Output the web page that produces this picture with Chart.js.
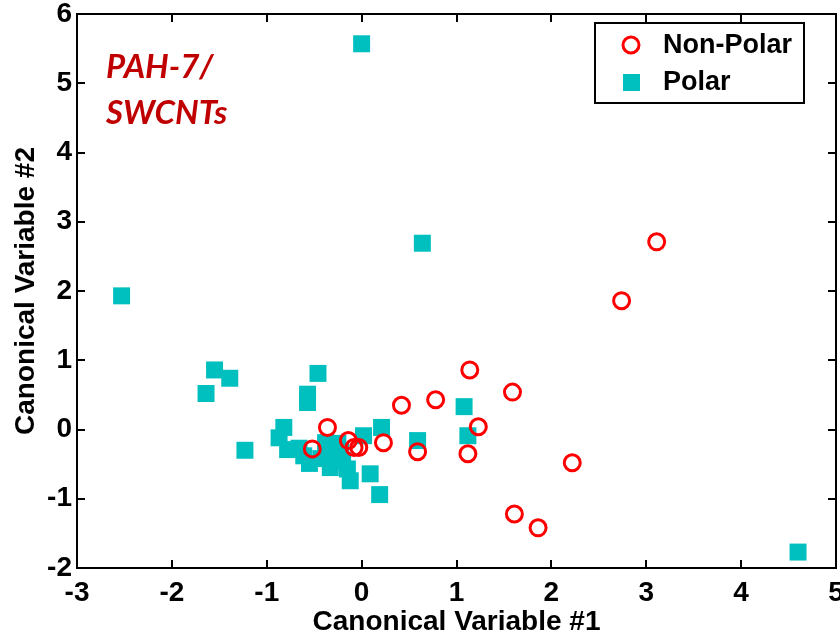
<!DOCTYPE html>
<html>
<head>
<meta charset="utf-8">
<script src="https://cdn.jsdelivr.net/npm/chart.js@4.4.1/dist/chart.umd.min.js"></script>
<style>
  html, body { margin: 0; padding: 0; background: #fff; }
  canvas { display: block; }
</style>
</head>
<body>
<canvas id="cvChart" width="840" height="636"></canvas>
<script>
// values
const nonPolarX = [3.11, 2.74, 1.14, 1.59, 0.78, 0.42, 1.23, 0.59, 1.12, 2.22, 1.61, 1.86, -0.36, 0.23, -0.14, -0.08, -0.03, -0.52];
const nonPolarY = [2.71, 1.86, 0.86, 0.54, 0.43, 0.35, 0.04, -0.32, -0.35, -0.48, -1.22, -1.42, 0.03, -0.19, -0.16, -0.26, -0.26, -0.28];

const polarX = [0.0, 0.64, -2.53, 4.6, -1.55, -1.39, -1.64, -0.46, -0.57, -0.57, -0.82, -0.87, -1.23, -0.78, -0.61, -0.55,
                -0.38, -0.25, -0.33, -0.15, -0.12, 0.09, 0.02, 0.21, 0.19, 0.59, 1.08, 1.12, -0.22, -0.43, -0.66, -0.30, -0.20];
const polarY = [5.57, 2.69, 1.93, -1.77, 0.86, 0.74, 0.52, 0.81, 0.51, 0.39, 0.03, -0.12, -0.30, -0.29, -0.38, -0.49,
                -0.19, -0.20, -0.55, -0.57, -0.74, -0.64, -0.09, 0.03, -0.94, -0.16, 0.33, -0.09, -0.33, -0.42, -0.27, -0.35, -0.45];

const xTicks = [-3, -2, -1, 0, 1, 2, 3, 4, 5];
const yTicks = [-2, -1, 0, 1, 2, 3, 4, 5, 6];

const axisFont = { family: 'Liberation Sans, Arial, sans-serif', size: 28, weight: 'bold' };

// frame, inward ticks, legend box and the PAH-7 label
const decor = {
  id: 'decor',
  afterDraw(chart) {
    const { ctx, chartArea: a, scales } = chart;
    ctx.save();
    ctx.strokeStyle = '#000';
    ctx.lineWidth = 2;
    ctx.strokeRect(a.left, a.top, a.right - a.left, a.bottom - a.top);
    ctx.beginPath();
    xTicks.slice(1, -1).forEach(v => {
      const px = Math.round(scales.x.getPixelForValue(v));
      ctx.moveTo(px, a.bottom); ctx.lineTo(px, a.bottom - 8);
      ctx.moveTo(px, a.top); ctx.lineTo(px, a.top + 8);
    });
    yTicks.slice(1, -1).forEach(v => {
      const py = Math.round(scales.y.getPixelForValue(v));
      ctx.moveTo(a.left, py); ctx.lineTo(a.left + 8, py);
      ctx.moveTo(a.right, py); ctx.lineTo(a.right - 8, py);
    });
    ctx.stroke();

    // legend
    const lx = 595, ly = 23, lw = 209, lh = 80;
    ctx.fillStyle = '#fff';
    ctx.fillRect(lx, ly, lw, lh);
    ctx.strokeRect(lx, ly, lw, lh);
    ctx.strokeStyle = '#ff0000';
    ctx.lineWidth = 3;
    ctx.beginPath(); ctx.arc(631, 45, 8, 0, Math.PI * 2); ctx.stroke();
    ctx.fillStyle = '#00bfbf';
    ctx.fillRect(623, 74, 17, 17);
    ctx.fillStyle = '#000';
    ctx.font = 'bold 27px "Liberation Sans", Arial, sans-serif';
    ctx.textBaseline = 'middle';
    ctx.textAlign = 'left';
    ctx.fillText('Non-Polar', 663, 46);
    ctx.fillText('Polar', 663, 83);

    // in-plot label
    ctx.fillStyle = '#c00000';
    ctx.font = 'italic bold 33px Lato, "Open Sans", sans-serif';
    ctx.textBaseline = 'alphabetic';
    ctx.fillText('PAH-7/', 106, 78);
    ctx.fillText('SWCNTs', 106, 124);
    ctx.restore();
  }
};

new Chart(document.getElementById('cvChart'), {
  type: 'scatter',
  data: {
    datasets: [{
      label: 'Non-Polar',
      data: nonPolarX.map((x, i) => ({ x, y: nonPolarY[i] })),
      pointStyle: 'circle', pointRadius: 8, borderWidth: 3,
      borderColor: '#ff0000', backgroundColor: 'rgba(0,0,0,0)'
    }, {
      label: 'Polar',
      data: polarX.map((x, i) => ({ x, y: polarY[i] })),
      pointStyle: 'rect', pointRadius: 12, borderWidth: 0,
      borderColor: '#00bfbf', backgroundColor: '#00bfbf'
    }]
  },
  options: {
    responsive: false, animation: false, devicePixelRatio: 1,
    layout: { autoPadding: false, padding: { top: 14, right: 4, left: 0, bottom: 0 } },
    plugins: { legend: { display: false }, tooltip: { enabled: false } },
    scales: {
      x: {
        type: 'linear', min: -3, max: 5,
        afterBuildTicks: s => { s.ticks = xTicks.map(v => ({ value: v })); },
        afterFit: s => { s.height = 68; s.paddingLeft = 0; s.paddingRight = 0; },
        grid: { display: false, drawTicks: false }, border: { display: false },
        ticks: { font: axisFont, color: '#000', padding: 8, maxRotation: 0 },
        title: { display: true, text: 'Canonical Variable #1', font: axisFont, color: '#000', padding: { top: 0, bottom: -3 } }
      },
      y: {
        type: 'linear', min: -2, max: 6,
        afterBuildTicks: s => { s.ticks = yTicks.map(v => ({ value: v })); },
        afterFit: s => { s.width = 77; s.paddingTop = 0; s.paddingBottom = 0; },
        grid: { display: false, drawTicks: false }, border: { display: false },
        ticks: { font: axisFont, color: '#000', padding: 5 },
        title: { display: true, text: 'Canonical Variable #2', font: axisFont, color: '#000', padding: { top: 9, bottom: 0 } }
      }
    }
  },
  plugins: [decor]
});
</script>
</body>
</html>
